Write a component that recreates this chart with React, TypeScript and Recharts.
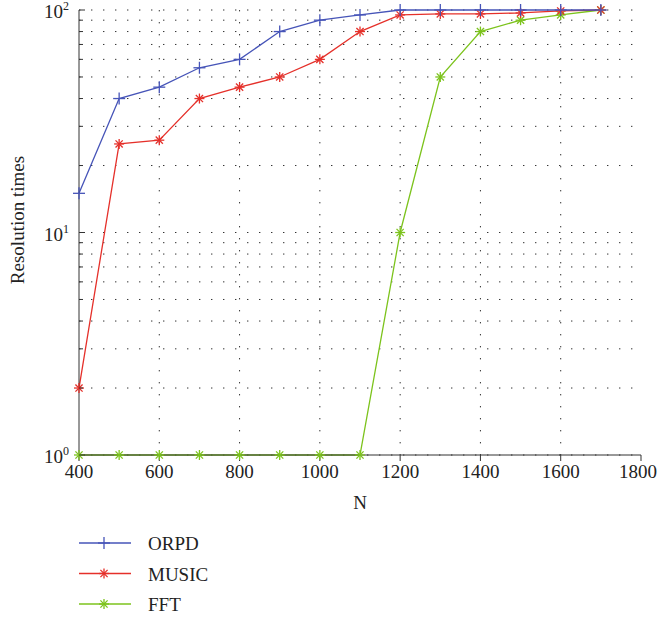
import React from "react";
import { CartesianGrid, Line, LineChart, XAxis, YAxis } from "recharts";

const nValues = [400, 500, 600, 700, 800, 900, 1000, 1100, 1200, 1300, 1400, 1500, 1600, 1700];
const orpd = [15, 40, 45, 55, 60, 80, 90, 95, 100, 100, 100, 100, 100, 100];
const music = [2, 25, 26, 40, 45, 50, 60, 80, 95, 96, 96, 97, 99, 100];
const fft = [1, 1, 1, 1, 1, 1, 1, 1, 10, 50, 80, 90, 95, 100];

const xTicks = [400, 600, 800, 1000, 1200, 1400, 1600, 1800];
const yTicks = [1, 2, 3, 4, 5, 6, 7, 8, 9, 10, 20, 30, 40, 50, 60, 70, 80, 90, 100];
const yMajors = [1, 10, 100];

const data = nValues.map((n, i) => ({ n, orpd: orpd[i], music: music[i], fft: fft[i] }));

const BLUE = "#4654b8";
const RED = "#e5302a";
const GREEN = "#7cc31c";
const AXIS = "#333";
const FONT = "'Liberation Serif', 'DejaVu Serif', serif";

const PLOT_LEFT = 79;
const PLOT_RIGHT = 641;

function PlusMark({ cx, cy, color }: any) {
  if (cx == null || cy == null) return null;
  return (
    <g stroke={color} strokeWidth={1.3}>
      <line x1={cx - 6} x2={cx + 6} y1={cy} y2={cy} />
      <line x1={cx} x2={cx} y1={cy - 6} y2={cy + 6} />
    </g>
  );
}

function StarMark({ cx, cy, color }: any) {
  if (cx == null || cy == null) return null;
  const r = 5;
  const d = 3.6;
  return (
    <g stroke={color} strokeWidth={1.3}>
      <line x1={cx - r} x2={cx + r} y1={cy} y2={cy} />
      <line x1={cx} x2={cx} y1={cy - r} y2={cy + r} />
      <line x1={cx - d} x2={cx + d} y1={cy - d} y2={cy + d} />
      <line x1={cx - d} x2={cx + d} y1={cy + d} y2={cy - d} />
    </g>
  );
}

function LeftTick({ y, payload }: any) {
  const v = payload.value;
  const major = yMajors.includes(v);
  return (
    <g>
      <line x1={PLOT_LEFT} x2={PLOT_LEFT + (major ? 6 : 4)} y1={y} y2={y} stroke={AXIS} />
      {major && (
        <text x={PLOT_LEFT - 10} y={y} dy={8} textAnchor="end" fontSize={19} fill="#222" fontFamily={FONT}>
          10
          <tspan dy={-8} fontSize={12}>
            {Math.round(Math.log10(v))}
          </tspan>
        </text>
      )}
    </g>
  );
}

function RightTick({ y, payload }: any) {
  const major = yMajors.includes(payload.value);
  return <line x1={PLOT_RIGHT} x2={PLOT_RIGHT - (major ? 6 : 4)} y1={y} y2={y} stroke={AXIS} />;
}

const legendItems = [
  { name: "ORPD", color: BLUE, star: false },
  { name: "MUSIC", color: RED, star: true },
  { name: "FFT", color: GREEN, star: true },
];

export default function App() {
  return (
    <div style={{ position: "absolute", left: 0, top: 0, width: 657, height: 620, background: "#fff", fontFamily: FONT }}>
      <LineChart width={657} height={520} data={data} margin={{ top: 10, right: 16, left: 0, bottom: 6 }}>
        <CartesianGrid stroke="#333" strokeDasharray="1.4 10.6" strokeWidth={1} horizontalValues={yTicks} verticalValues={[600, 800, 1000, 1200, 1400, 1600]} />
        <XAxis
          dataKey="n"
          type="number"
          domain={[400, 1800]}
          ticks={xTicks}
          height={59}
          tickSize={6}
          tickMargin={4}
          stroke={AXIS}
          tick={{ fontSize: 19, fill: "#222", fontFamily: FONT }}
          label={{ value: "N", position: "insideBottom", offset: 5, fontSize: 19, fill: "#222", fontFamily: FONT }}
        />
        <XAxis xAxisId="top" orientation="top" type="number" domain={[400, 1800]} ticks={xTicks} height={0} tick={false} tickLine={false} stroke={AXIS} />
        <YAxis
          type="number"
          scale="log"
          domain={[1, 100]}
          ticks={yTicks}
          interval={0}
          width={79}
          stroke={AXIS}
          tickLine={false}
          tick={<LeftTick />}
          label={{
            content: () => (
              <text transform="translate(24,220) rotate(-90)" textAnchor="middle" fontSize={19} fill="#222" fontFamily={FONT}>
                Resolution times
              </text>
            ),
          }}
        />
        <YAxis yAxisId="r" orientation="right" type="number" scale="log" domain={[1, 100]} ticks={yTicks} interval={0} width={0} stroke={AXIS} tickLine={false} tick={<RightTick />} />
        <Line dataKey="fft" stroke={GREEN} strokeWidth={1.3} isAnimationActive={false} dot={(p: any) => <StarMark key={p.index} {...p} color={GREEN} />} />
        <Line dataKey="music" stroke={RED} strokeWidth={1.3} isAnimationActive={false} dot={(p: any) => <StarMark key={p.index} {...p} color={RED} />} />
        <Line dataKey="orpd" stroke={BLUE} strokeWidth={1.3} isAnimationActive={false} dot={(p: any) => <PlusMark key={p.index} {...p} color={BLUE} />} />
      </LineChart>
      <svg width={657} height={100} style={{ position: "absolute", left: 0, top: 520 }}>
        {legendItems.map((item, i) => {
          const y = 23 + i * 30.5;
          return (
            <g key={item.name}>
              <line x1={79} x2={131} y1={y} y2={y} stroke={item.color} strokeWidth={1.3} />
              {item.star ? <StarMark cx={104} cy={y} color={item.color} /> : <PlusMark cx={104} cy={y} color={item.color} />}
              <text x={148} y={y} dy={7} fontSize={19} fill="#222" fontFamily={FONT}>
                {item.name}
              </text>
            </g>
          );
        })}
      </svg>
    </div>
  );
}
